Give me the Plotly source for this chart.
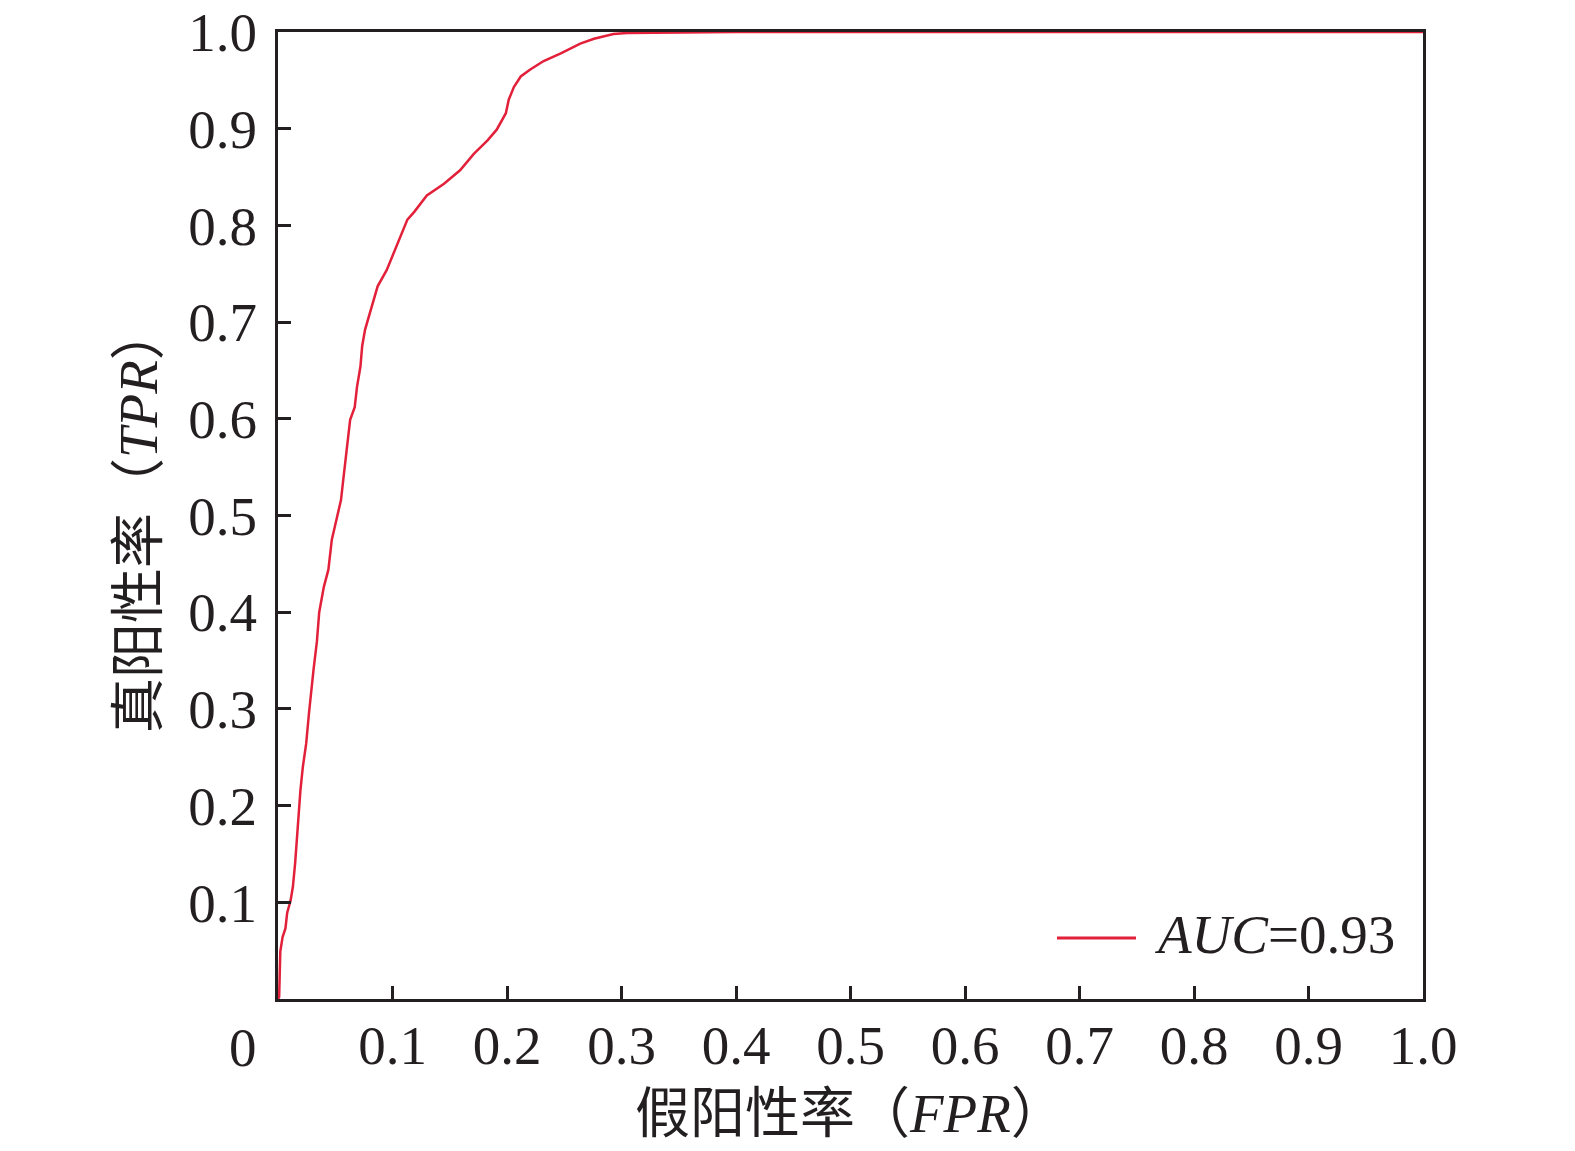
import plotly.graph_objects as go

fpr = [0.0, 0.001, 0.002, 0.004, 0.0065, 0.008, 0.011, 0.013, 0.015, 0.017, 0.0196, 0.0217,
       0.0246, 0.027, 0.029, 0.031, 0.034, 0.036, 0.040, 0.044, 0.047, 0.052, 0.055, 0.057,
       0.060, 0.063, 0.067, 0.069, 0.072, 0.0735, 0.076, 0.080, 0.087, 0.095, 0.101, 0.107,
       0.113, 0.119, 0.130, 0.145, 0.159, 0.171, 0.183, 0.191, 0.199, 0.2015, 0.206, 0.212,
       0.220, 0.232, 0.247, 0.264, 0.276, 0.293, 0.305, 0.40, 0.60, 0.80, 1.0]
tpr = [0.0, 0.002, 0.049, 0.064, 0.073, 0.089, 0.102, 0.116, 0.141, 0.175, 0.216, 0.240,
       0.264, 0.295, 0.320, 0.340, 0.370, 0.400, 0.426, 0.444, 0.475, 0.499, 0.516, 0.537,
       0.571, 0.599, 0.612, 0.633, 0.654, 0.675, 0.692, 0.708, 0.737, 0.754, 0.771, 0.788,
       0.806, 0.814, 0.831, 0.843, 0.857, 0.874, 0.888, 0.899, 0.916, 0.930, 0.943, 0.954,
       0.961, 0.970, 0.978, 0.988, 0.993, 0.998, 0.999, 1.0, 1.0, 1.0, 1.0]

tick_vals = [0.1, 0.2, 0.3, 0.4, 0.5, 0.6, 0.7, 0.8, 0.9, 1.0]
tick_text = ["0.1", "0.2", "0.3", "0.4", "0.5", "0.6", "0.7", "0.8", "0.9", "1.0"]
auc_label = "<i>AUC</i>=0.93"
x_title = "假阳性率（<i>FPR</i>）"
y_title = "真阳性率（<i>TPR</i>）"

FONT = "Liberation Serif, Times New Roman, Noto Sans CJK SC, serif"
AX = "#231f20"
RED = "#e2203a"

fig = go.Figure()
fig.add_trace(go.Scatter(x=fpr, y=tpr, mode="lines", line=dict(color=RED, width=2.5),
                         showlegend=False, hoverinfo="skip"))

axis_common = dict(range=[0, 1], showgrid=False, zeroline=False, showline=True,
                   linecolor=AX, linewidth=3, mirror=True, ticks="inside",
                   ticklen=13, tickwidth=3, tickcolor=AX, automargin=False,
                   ticklabeloverflow="allow",
                   tickvals=tick_vals, ticktext=tick_text,
                   tickfont=dict(family=FONT, size=55, color="#231f20"))
fig.update_xaxes(**axis_common, ticklabelstandoff=-4)
fig.update_yaxes(**axis_common, ticklabelstandoff=7)

# plot area in page pixels: x 278..1423, y 32..999 (page has 8px body offset)
fig.update_layout(
    width=1575, height=1151,
    margin=dict(l=270, r=160, t=24, b=160, pad=0, autoexpand=False),
    plot_bgcolor="white", paper_bgcolor="white",
    font=dict(family=FONT, color="#231f20"),
    shapes=[dict(type="line", xref="paper", yref="paper",
                 x0=(1057 - 278) / 1145, x1=(1136 - 278) / 1145,
                 y0=(999 - 938) / 967, y1=(999 - 938) / 967,
                 line=dict(color=RED, width=3))],
    annotations=[
        dict(text=auc_label, xref="paper", yref="paper", x=(1152 - 278) / 1145,
             y=(999 - 934) / 967, xanchor="left", yanchor="middle", showarrow=False,
             font=dict(family=FONT, size=55, color="#231f20")),
        dict(text="0", xref="paper", yref="paper", x=(243 - 278) / 1145,
             y=(999 - 1047) / 967, xanchor="center", yanchor="middle", showarrow=False,
             font=dict(family=FONT, size=55, color="#231f20")),
        dict(text=x_title, xref="paper", yref="paper", x=(850 - 278) / 1145,
             y=(999 - 1113) / 967, xanchor="center", yanchor="middle", showarrow=False,
             font=dict(family=FONT, size=55, color="#231f20")),
        dict(text=y_title, xref="paper", yref="paper", x=(138 - 278) / 1145,
             y=(999 - 519) / 967, xanchor="center", yanchor="middle", showarrow=False,
             textangle=-90, font=dict(family=FONT, size=55, color="#231f20")),
    ],
)

fig.write_html("out.html")
